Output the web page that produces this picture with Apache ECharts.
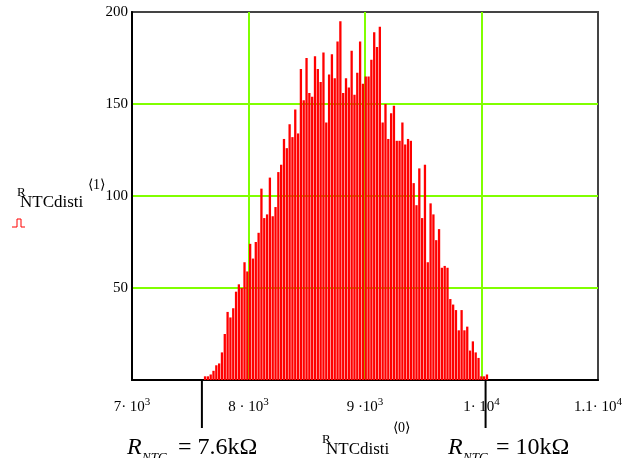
<!DOCTYPE html>
<html>
<head>
<meta charset="utf-8">
<script src="https://cdn.jsdelivr.net/npm/echarts@6/dist/echarts.min.js"></script>
<style>
html, body { margin: 0; padding: 0; background: #fff; }
#histo { width: 634px; height: 458px; }
</style>
</head>
<body>
<div id="histo"></div>
<script>
// histogram of R_NTCdisti: bin centres (ohm) and counts per bin
var binStart = 7627;
var binWidth = 24.2;
var counts = [
    2, 2, 3, 5, 8, 9, 15, 25, 37, 34,
    39, 48, 52, 50, 64, 59, 74, 66, 75, 80,
    104, 88, 90, 110, 89, 94, 113, 117, 131, 126,
    139, 132, 147, 134, 169, 152, 175, 156, 154, 176,
    169, 162, 178, 140, 166, 177, 164, 184, 195, 156,
    164, 159, 179, 155, 167, 184, 161, 165, 165, 174,
    189, 181, 192, 140, 150, 131, 145, 149, 130, 130,
    140, 128, 131, 130, 107, 95, 115, 88, 117, 64,
    96, 90, 76, 82, 61, 62, 61, 44, 41, 38,
    27, 38, 27, 29, 16, 21, 15, 12, 2, 2, 3
];
var xTicks = [7000, 8000, 9000, 10000, 11000];
var xTickText = ['7· 10{s|3}', '8 · 10{s|3}', '9 ·10{s|3}', '1· 10{s|4}', '1.1· 10{s|4}'];
var markerValues = [7600, 10035];
var markerText = ['= 7.6kΩ', '= 10kΩ'];

var serif = 'Liberation Serif, Times New Roman, serif';

var histoChart = echarts.init(document.getElementById('histo'));

var option_histo = {
    animation: false,
    grid: {
        left: 132, right: 36, top: 12, bottom: 78,
        show: true,
        borderColor: '#444',
        borderWidth: 2
    },
    xAxis: {
        type: 'value',
        min: 7000, max: 11000, interval: 1000,
        axisLine: { lineStyle: { color: '#000', width: 2 } },
        axisTick: { show: false },
        splitLine: { showMinLine: false, showMaxLine: false, lineStyle: { color: '#80ff00', width: 2 } },
        axisLabel: {
            margin: 17,
            color: '#000',
            fontFamily: serif,
            fontSize: 15,
            lineHeight: 20,
            formatter: function(v) {
                var i = xTicks.indexOf(v);
                return i < 0 ? '' : xTickText[i];
            },
            rich: {
                s: { fontSize: 11, fontFamily: serif, color: '#000', verticalAlign: 'top', lineHeight: 12 }
            }
        }
    },
    yAxis: {
        type: 'value',
        min: 0, max: 200, interval: 50,
        axisLine: { show: true, lineStyle: { color: '#000', width: 2 } },
        axisTick: { show: false },
        splitLine: { showMinLine: false, showMaxLine: false, lineStyle: { color: '#80ff00', width: 2 } },
        axisLabel: {
            margin: 4,
            color: '#000',
            fontFamily: serif,
            fontSize: 15,
            formatter: function(v) { return v === 0 ? '' : String(v); }
        }
    },
    series: [{
        type: 'bar',
        barWidth: 2.3,
        itemStyle: { color: '#ff0000' },
        data: counts.map(function(c, i) {
            return [binStart + i * binWidth, c];
        })
    }]
};
histoChart.setOption(option_histo);

// annotation lines below the axis, placed through the chart's own scale
var yBase = histoChart.convertToPixel({ yAxisIndex: 0 }, 0);
var graphics = [];
markerValues.forEach(function(v, k) {
    var px = histoChart.convertToPixel({ xAxisIndex: 0 }, v);
    graphics.push({
        type: 'line',
        shape: { x1: px, y1: yBase, x2: px, y2: yBase + 48 },
        style: { stroke: '#000', lineWidth: 2 }
    });
    var x0 = k === 0 ? 127 : 448;
    graphics.push(
        { type: 'text', x: x0, y: 448, style: { text: 'R', font: 'italic 24px ' + serif, fill: '#000', textVerticalAlign: 'middle' } },
        { type: 'text', x: x0 + 15, y: 458, style: { text: 'NTC', font: 'italic 13px ' + serif, fill: '#000', textVerticalAlign: 'middle' } },
        { type: 'text', x: x0 + (k === 0 ? 51 : 48), y: 448, style: { text: markerText[k], font: '24px ' + serif, fill: '#000', textVerticalAlign: 'middle' } }
    );
});

// axis titles (Mathcad style)
graphics.push(
    { type: 'text', x: 17, y: 193, style: { text: 'R', font: '13px ' + serif, fill: '#000', textVerticalAlign: 'middle' } },
    { type: 'text', x: 20, y: 203, style: { text: 'NTCdisti', font: '17px ' + serif, fill: '#000', textVerticalAlign: 'middle' } },
    { type: 'text', x: 88, y: 185, style: { text: '⟨1⟩', font: '14px ' + serif, fill: '#000', textVerticalAlign: 'middle' } },
    { type: 'polyline', shape: { points: [[12, 227], [17, 227], [17, 219], [21, 219], [21, 227], [25, 227]] }, style: { stroke: '#ff0000', lineWidth: 1, fill: null } },
    { type: 'text', x: 322, y: 440, style: { text: 'R', font: '13px ' + serif, fill: '#000', textVerticalAlign: 'middle' } },
    { type: 'text', x: 326, y: 450, style: { text: 'NTCdisti', font: '17px ' + serif, fill: '#000', textVerticalAlign: 'middle' } },
    { type: 'text', x: 393, y: 428, style: { text: '⟨0⟩', font: '14px ' + serif, fill: '#000', textVerticalAlign: 'middle' } }
);
histoChart.setOption({ graphic: graphics });

window.addEventListener('resize', histoChart.resize);
</script>
</body>
</html>
